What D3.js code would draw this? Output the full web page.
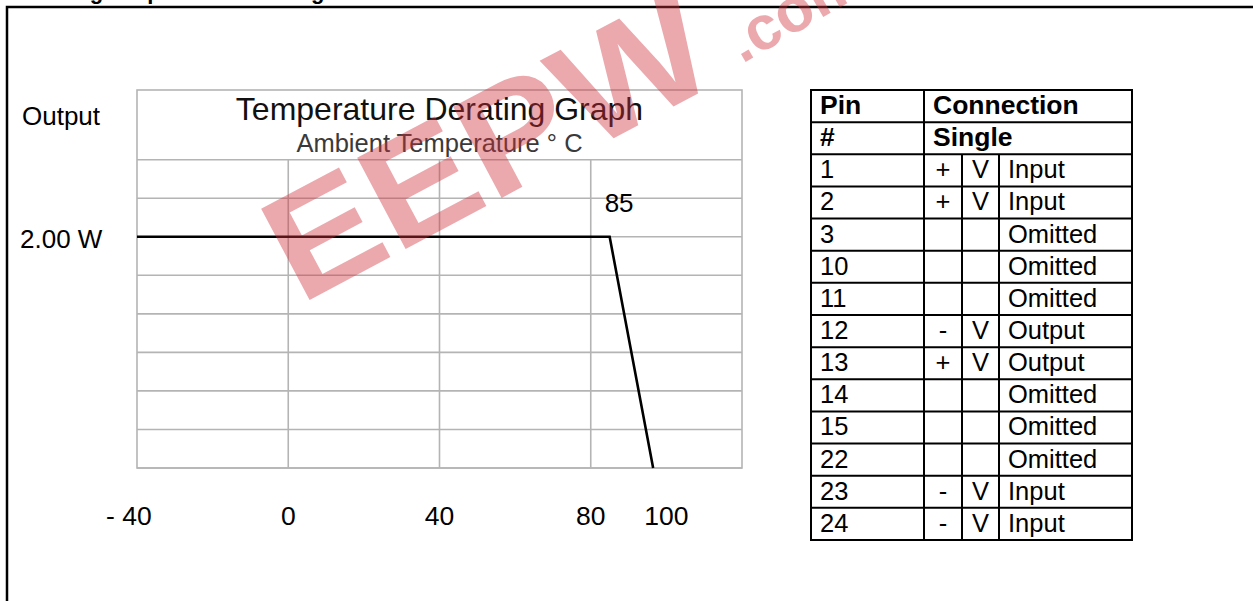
<!DOCTYPE html>
<html>
<head>
<meta charset="utf-8">
<script src="https://cdn.jsdelivr.net/npm/d3@7/dist/d3.min.js"></script>
<style>
  html, body { margin: 0; padding: 0; background: #ffffff; }
  svg { display: block; }
  text { font-family: "Liberation Sans", Arial, Helvetica, sans-serif; }
</style>
</head>
<body>
<svg id="chart" width="1253" height="601"></svg>
<script>
// ---------------- data ----------------
const chartTitle = "Temperature Derating Graph";
const chartSubtitle = "Ambient Temperature \u00B0 C";
const pageHeading = "Derating Graph Pinout Configuration";
const yAxisTitle = "Output";
const xGridTemps = [-40, 0, 40, 80, 120];
const xTickValues = [-40, 0, 40, 80, 100];
const xTickLabels = ["- 40", "0", "40", "80", "100"];
const yGridWatts = [0, 0.333, 0.667, 1, 1.333, 1.667, 2, 2.333, 2.667];
const yTopWatts = 3.27;
const ratedPowerLabel = "2.00 W";
const ratedPower = 2.0;
const derateStartLabel = "85";
const deratingTemps = [-40, 85, 96.5];
const deratingPower = [2.0, 2.0, 0];

const tableHeader1 = ["Pin", "Connection"];
const tableHeader2 = ["#", "Single"];
const pinNumbers = ["1", "2", "3", "10", "11", "12", "13", "14", "15", "22", "23", "24"];
const pinSigns   = ["+", "+", "", "", "", "-", "+", "", "", "", "-", "-"];
const pinVolts   = ["V", "V", "", "", "", "V", "V", "", "", "", "V", "V"];
const pinFuncs   = ["Input", "Input", "Omitted", "Omitted", "Omitted", "Output", "Output",
                    "Omitted", "Omitted", "Omitted", "Input", "Input"];

// ---------------- drawing ----------------
const svg = d3.select("#chart");
const W = 1253, H = 601;

// page frame and heading (cut off at top, only descenders show)
svg.append("text")
  .attr("x", 14).attr("y", -0.8)
  .attr("font-size", 22).attr("font-weight", "bold").attr("fill", "#000")
  .text(pageHeading);
svg.append("path")
  .attr("d", `M7,${H} V7 H${W}`)
  .attr("fill", "none").attr("stroke", "#000").attr("stroke-width", 2.5);

// scales
const x = d3.scaleLinear().domain([-40, 120]).range([137, 742]);
const y = d3.scaleLinear().domain([0, yTopWatts]).range([468, 90]);

const grid = svg.append("g").attr("class", "grid");
const gridColor = "#b4b4b4";

grid.selectAll("line.h").data(yGridWatts).join("line")
  .attr("class", "h")
  .attr("x1", x(-40)).attr("x2", x(120))
  .attr("y1", d => y(d)).attr("y2", d => y(d))
  .attr("stroke", gridColor).attr("stroke-width", 1.6);

grid.selectAll("line.v").data(xGridTemps.slice(1, -1)).join("line")
  .attr("class", "v")
  .attr("x1", d => x(d)).attr("x2", d => x(d))
  .attr("y1", y(0)).attr("y2", y(yGridWatts[yGridWatts.length - 1]))
  .attr("stroke", gridColor).attr("stroke-width", 1.6);

grid.append("rect")
  .attr("x", x(-40)).attr("y", y(yTopWatts))
  .attr("width", x(120) - x(-40)).attr("height", y(0) - y(yTopWatts))
  .attr("fill", "none").attr("stroke", gridColor).attr("stroke-width", 1.6);

// title and subtitle
const cx = (x(-40) + x(120)) / 2;
svg.append("text")
  .attr("x", cx).attr("y", 120)
  .attr("text-anchor", "middle").attr("font-size", 32).attr("fill", "#111")
  .text(chartTitle);
svg.append("text")
  .attr("x", cx).attr("y", 152)
  .attr("text-anchor", "middle").attr("font-size", 25.5).attr("fill", "#3a3a3a")
  .text(chartSubtitle);

// y labels
svg.append("text")
  .attr("x", 22).attr("y", 125)
  .attr("font-size", 26).attr("fill", "#000")
  .text(yAxisTitle);
svg.append("text")
  .attr("x", 20).attr("y", y(ratedPower)).attr("dy", "0.42em")
  .attr("font-size", 26).attr("fill", "#000")
  .text(ratedPowerLabel);

// x tick labels
const ticks = svg.append("g").attr("class", "xticks");
ticks.selectAll("text").data(xTickValues).join("text")
  .attr("x", d => x(d)).attr("y", y(0) + 57)
  .attr("text-anchor", "middle").attr("font-size", 26.5).attr("fill", "#000")
  .text((d, i) => xTickLabels[i])
  .each(function(d, i) {
    const lab = xTickLabels[i];
    if (lab.startsWith("- ")) {
      const full = this.getComputedTextLength();
      const tmp = d3.select(this.parentNode).append("text")
        .attr("font-size", 26.5).text(lab.slice(2));
      const num = tmp.node().getComputedTextLength();
      tmp.remove();
      d3.select(this).attr("dx", -(full - num) / 2);
    }
  });

// 85 label
svg.append("text")
  .attr("x", x(deratingTemps[1]) - 5).attr("y", y(ratedPower) - 25)
  .attr("font-size", 26).attr("fill", "#000")
  .text(derateStartLabel);

// derating curve
const pts = deratingTemps.map((t, i) => [t, deratingPower[i]]);
svg.append("path")
  .datum(pts)
  .attr("d", d3.line().x(d => x(d[0])).y(d => y(d[1])))
  .attr("fill", "none").attr("stroke", "#000").attr("stroke-width", 2.6)
  .attr("stroke-linejoin", "miter");

// ---------------- pin table ----------------
const colX = [811, 924, 962, 999, 1132];
const nRows = 2 + pinNumbers.length;
const rowY = d3.scaleLinear().domain([0, nRows]).range([90, 540]);
const tbl = svg.append("g").attr("class", "pintable");

tbl.selectAll("line.r").data(d3.range(nRows + 1)).join("line")
  .attr("class", "r")
  .attr("x1", colX[0]).attr("x2", colX[4])
  .attr("y1", d => rowY(d)).attr("y2", d => rowY(d))
  .attr("stroke", "#000").attr("stroke-width", 2);
tbl.append("line")
  .attr("x1", colX[0]).attr("x2", colX[0]).attr("y1", rowY(0) - 1).attr("y2", rowY(nRows) + 1)
  .attr("stroke", "#000").attr("stroke-width", 2);
tbl.append("line")
  .attr("x1", colX[4]).attr("x2", colX[4]).attr("y1", rowY(0) - 1).attr("y2", rowY(nRows) + 1)
  .attr("stroke", "#000").attr("stroke-width", 2);
tbl.append("line")
  .attr("x1", colX[1]).attr("x2", colX[1]).attr("y1", rowY(0)).attr("y2", rowY(nRows))
  .attr("stroke", "#000").attr("stroke-width", 2);
[colX[2], colX[3]].forEach(cxl => {
  tbl.append("line")
    .attr("x1", cxl).attr("x2", cxl).attr("y1", rowY(2)).attr("y2", rowY(nRows))
    .attr("stroke", "#000").attr("stroke-width", 2);
});

[tableHeader1, tableHeader2].forEach((row, r) => {
  tbl.append("text").attr("x", colX[0] + 9).attr("y", rowY(r) + 24)
    .attr("font-size", 26.5).attr("font-weight", "bold").text(row[0]);
  tbl.append("text").attr("x", colX[1] + 9).attr("y", rowY(r) + 24)
    .attr("font-size", 26.5).attr("font-weight", "bold").text(row[1]);
});

const rows = tbl.selectAll("g.row").data(pinNumbers).join("g").attr("class", "row");
rows.append("text")
  .attr("x", colX[0] + 9).attr("y", (d, i) => rowY(i + 2) + 24)
  .attr("font-size", 25.5).text(d => d);
rows.append("text")
  .attr("x", (colX[1] + colX[2]) / 2).attr("y", (d, i) => rowY(i + 2) + 24)
  .attr("text-anchor", "middle").attr("font-size", 25.5).text((d, i) => pinSigns[i]);
rows.append("text")
  .attr("x", (colX[2] + colX[3]) / 2).attr("y", (d, i) => rowY(i + 2) + 24)
  .attr("text-anchor", "middle").attr("font-size", 25.5).text((d, i) => pinVolts[i]);
rows.append("text")
  .attr("x", colX[3] + 9).attr("y", (d, i) => rowY(i + 2) + 24)
  .attr("font-size", 25.5).text((d, i) => pinFuncs[i]);

// ---------------- watermark ----------------
const wm = svg.append("g").attr("class", "watermark").attr("pointer-events", "none");
wm.append("text")
  .attr("transform", "translate(300,305) rotate(-28)")
  .attr("font-family", "DejaVu Sans, sans-serif")
  .attr("font-size", 150).attr("font-weight", "bold")
  .attr("textLength", 480).attr("lengthAdjust", "spacingAndGlyphs")
  .attr("fill", "#d02f3b").attr("fill-opacity", 0.42)
  .text("EEPW");
wm.append("text")
  .attr("transform", "translate(742,64) rotate(-30)")
  .attr("font-family", "DejaVu Sans, sans-serif")
  .attr("font-size", 62).attr("font-weight", "bold")
  .attr("fill", "#d02f3b").attr("fill-opacity", 0.42)
  .text(".com");
</script>
</body>
</html>
